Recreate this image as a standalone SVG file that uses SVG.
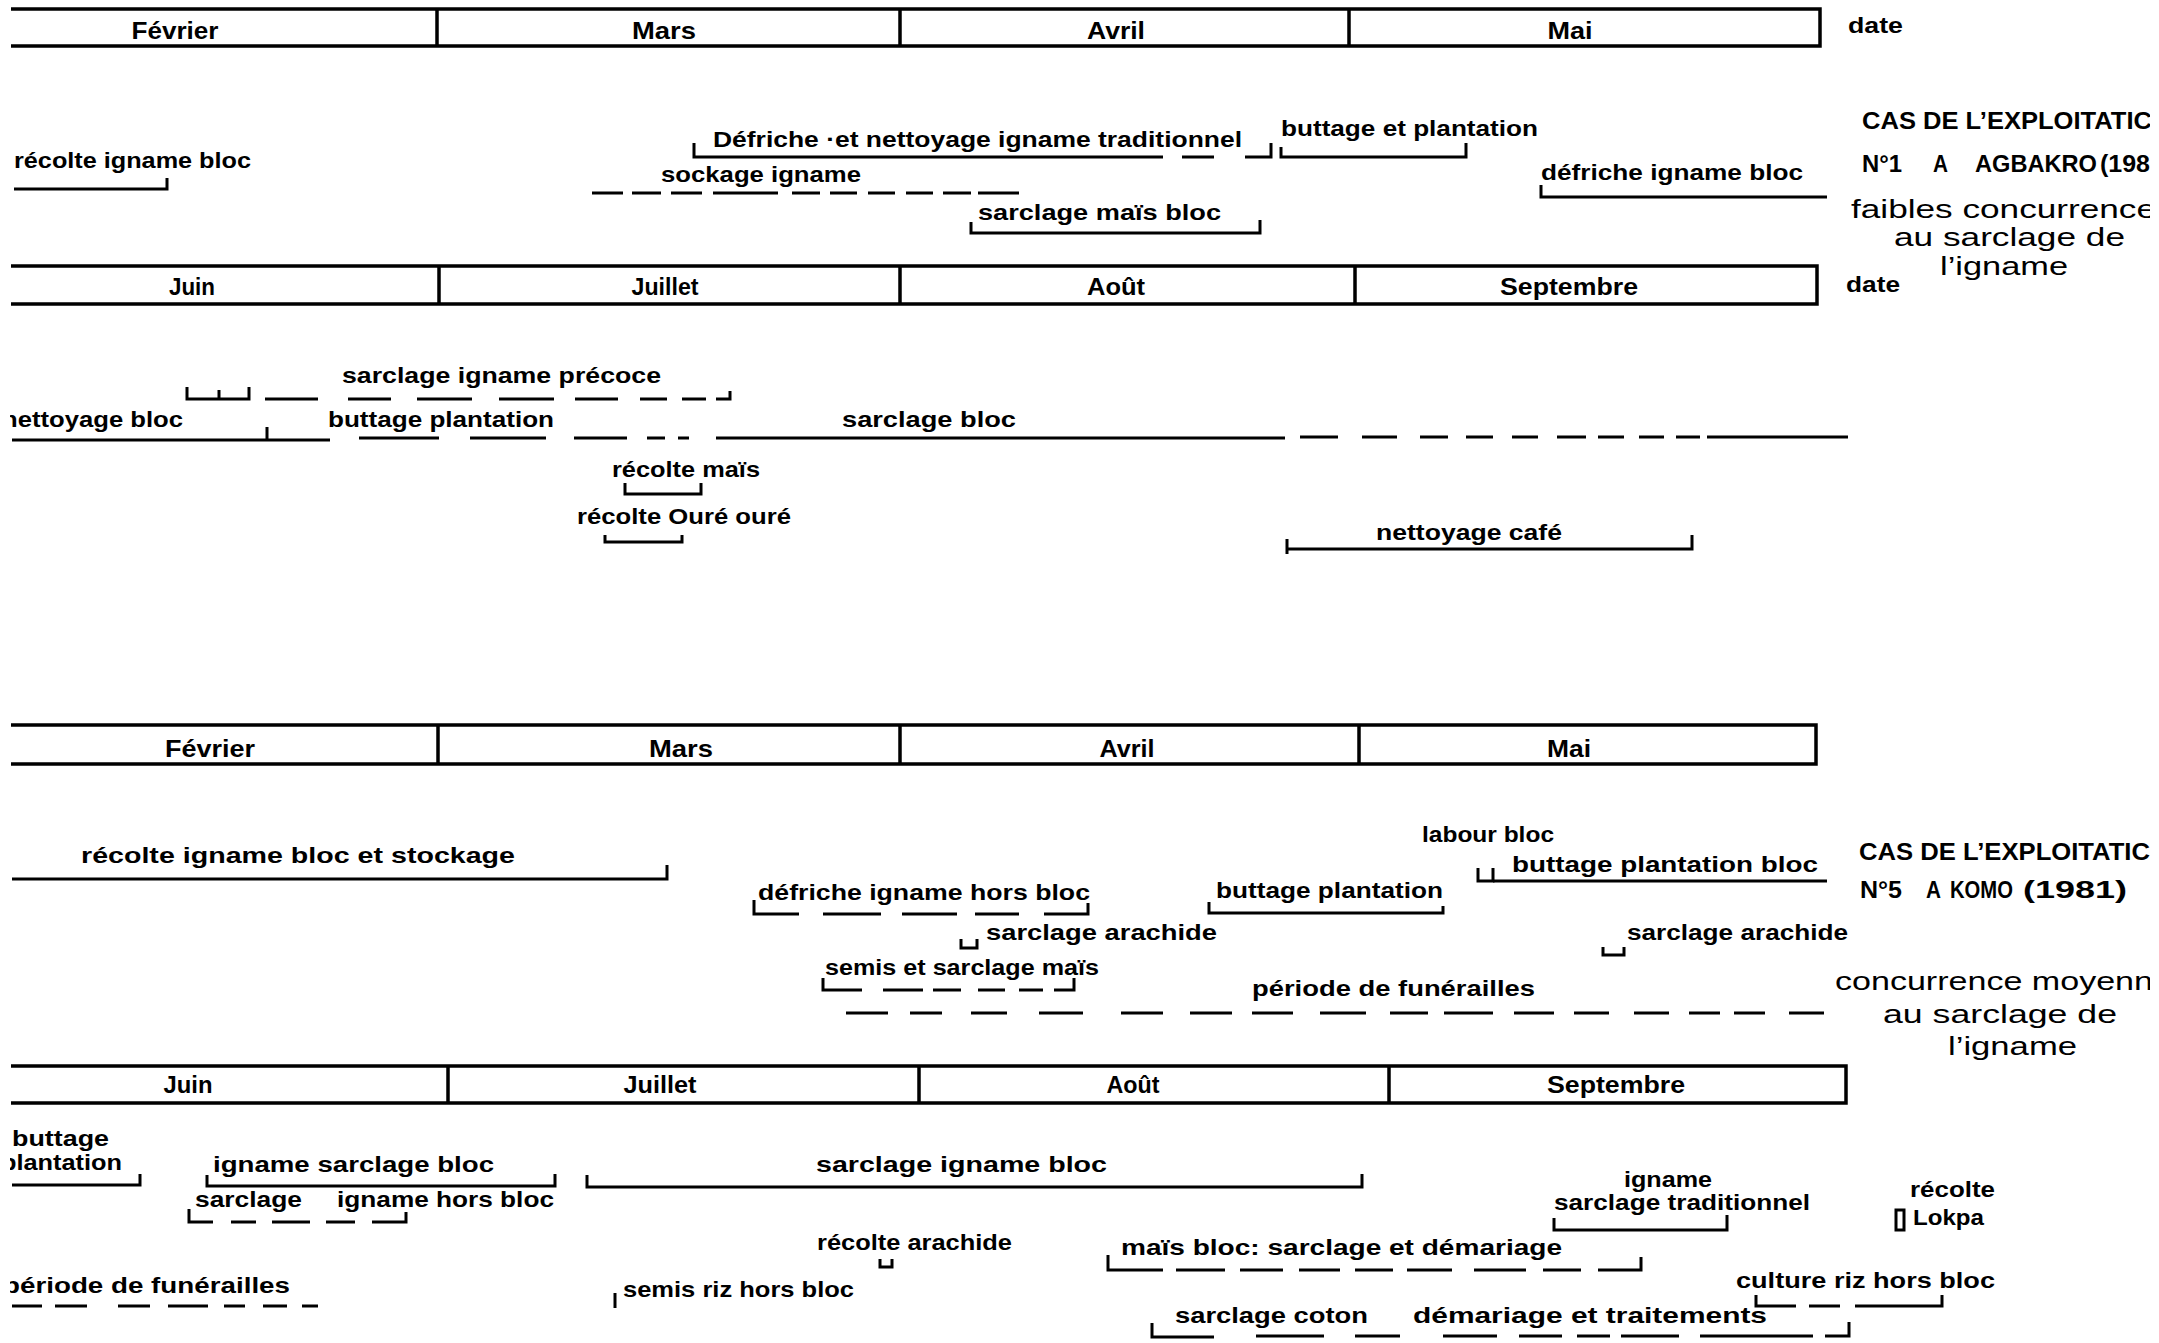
<svg xmlns="http://www.w3.org/2000/svg" width="2159" height="1343" viewBox="0 0 2159 1343">
<defs>
<clipPath id="page"><rect x="10" y="0" width="2140" height="1343"/></clipPath>
<style>
.ln{stroke:#000;stroke-width:3;fill:none;stroke-linecap:butt}
.bar{stroke:#000;stroke-width:3.5;fill:none}
.t{font-family:"Liberation Sans",Arial,sans-serif;font-weight:bold;font-size:22px;fill:#000}
.m{font-family:"Liberation Sans",Arial,sans-serif;font-weight:bold;font-size:24px;fill:#000;text-anchor:middle}
.h{font-family:"Liberation Sans",Arial,sans-serif;font-weight:bold;font-size:23px;fill:#000}
.n{font-family:"Liberation Sans",Arial,sans-serif;font-size:25px;fill:#000}
</style>
</defs>
<rect width="2159" height="1343" fill="#fff"/>
<g clip-path="url(#page)">

<!-- ===== Section 1 : Agbakro ===== -->
<g id="bar1">
<path class="bar" d="M11 9 H1820 V46 H11 M437 9 V46 M900 9 V46 M1349 9 V46"/>
<text class="m" x="175" y="39" textLength="87" lengthAdjust="spacingAndGlyphs">Février</text>
<text class="m" x="664" y="39" textLength="64" lengthAdjust="spacingAndGlyphs">Mars</text>
<text class="m" x="1116" y="39" textLength="58" lengthAdjust="spacingAndGlyphs">Avril</text>
<text class="m" x="1570" y="39" textLength="45" lengthAdjust="spacingAndGlyphs">Mai</text>
<text class="t" x="1848" y="33" textLength="55" lengthAdjust="spacingAndGlyphs">date</text>
</g>

<g id="a-recolte-igname-bloc">
<text class="t" x="14" y="168" textLength="237" lengthAdjust="spacingAndGlyphs">récolte igname bloc</text>
<path class="ln" d="M14 189 H167 V178"/>
</g>
<g id="a-defriche-trad">
<text class="t" x="713" y="147" textLength="529" lengthAdjust="spacingAndGlyphs">Défriche ·et nettoyage igname traditionnel</text>
<path class="ln" d="M694 143 V157 H1163 M1182 157 H1214 M1245 157 H1271 V143"/>
</g>
<g id="a-buttage-plantation-1">
<text class="t" x="1281" y="136" textLength="257" lengthAdjust="spacingAndGlyphs">buttage et plantation</text>
<path class="ln" d="M1281 147 V157 H1466 V143"/>
</g>
<g id="a-sockage">
<text class="t" x="661" y="182" textLength="200" lengthAdjust="spacingAndGlyphs">sockage igname</text>
<path class="ln" d="M592 193 H623 M632 193 H661 M671 193 H702 M713 193 H778 M792 193 H820 M830 193 H857 M868 193 H895 M906 193 H933 M943 193 H971 M978 193 H1019"/>
</g>
<g id="a-sarclage-mais-bloc">
<text class="t" x="978" y="220" textLength="243" lengthAdjust="spacingAndGlyphs">sarclage maïs bloc</text>
<path class="ln" d="M971 222 V233 H1260 V220"/>
</g>
<g id="a-defriche-bloc">
<text class="t" x="1541" y="180" textLength="262" lengthAdjust="spacingAndGlyphs">défriche igname bloc</text>
<path class="ln" d="M1541 185 V197 H1827"/>
</g>

<g id="note1">
<text class="h" x="1862" y="129" textLength="290" lengthAdjust="spacingAndGlyphs">CAS  DE  L’EXPLOITATIC</text>
<text class="h" x="1862" y="172" font-size="24" textLength="40" lengthAdjust="spacingAndGlyphs">N°1</text>
<text class="h" x="1933" y="172" font-size="24" textLength="15" lengthAdjust="spacingAndGlyphs">A</text>
<text class="h" x="1975" y="172" font-size="24" textLength="122" lengthAdjust="spacingAndGlyphs">AGBAKRO</text>
<text class="h" x="2100" y="172" font-size="24" textLength="50" lengthAdjust="spacingAndGlyphs">(198</text>
<text class="n" x="1851" y="218" textLength="305" lengthAdjust="spacingAndGlyphs">faibles concurrence</text>
<text class="n" x="1894" y="246" textLength="231" lengthAdjust="spacingAndGlyphs">au sarclage de</text>
<text class="n" x="1940" y="275" textLength="128" lengthAdjust="spacingAndGlyphs">l’igname</text>
</g>

<g id="bar2">
<path class="bar" d="M11 266 H1817 V304 H11 M439 266 V304 M900 266 V304 M1355 266 V304"/>
<text class="m" x="192" y="295" textLength="46" lengthAdjust="spacingAndGlyphs">Juin</text>
<text class="m" x="665" y="295" textLength="67" lengthAdjust="spacingAndGlyphs">Juillet</text>
<text class="m" x="1116" y="295" textLength="58" lengthAdjust="spacingAndGlyphs">Août</text>
<text class="m" x="1569" y="295" textLength="138" lengthAdjust="spacingAndGlyphs">Septembre</text>
<text class="t" x="1846" y="292" textLength="54" lengthAdjust="spacingAndGlyphs">date</text>
</g>

<g id="b-sarclage-precoce">
<text class="t" x="342" y="383" textLength="319" lengthAdjust="spacingAndGlyphs">sarclage igname précoce</text>
<path class="ln" d="M187 387 V399 H249 V387 M219 399 V390 M265 399 H318 M348 399 H391 M417 399 H472 M499 399 H554 M575 399 H618 M640 399 H667 M682 399 H706 M716 399 H730 V391"/>
</g>
<g id="b-nettoyage-bloc">
<text class="t" x="2" y="427" textLength="181" lengthAdjust="spacingAndGlyphs">nettoyage bloc</text>
<path class="ln" d="M12 440 H330 M267 440 V427"/>
</g>
<g id="b-buttage-plantation">
<text class="t" x="328" y="427" textLength="226" lengthAdjust="spacingAndGlyphs">buttage plantation</text>
<path class="ln" d="M359 438 H439 M470 438 H546 M574 438 H627 M647 438 H665 M678 438 H689"/>
</g>
<g id="b-sarclage-bloc">
<text class="t" x="842" y="427" textLength="174" lengthAdjust="spacingAndGlyphs">sarclage bloc</text>
<path class="ln" d="M716 438 H1285 M1300 437 H1338 M1362 437 H1397 M1420 437 H1448 M1466 437 H1493 M1512 437 H1538 M1557 437 H1586 M1598 437 H1624 M1639 437 H1664 M1676 437 H1700 M1707 437 H1848"/>
</g>
<g id="b-recolte-mais">
<text class="t" x="612" y="477" textLength="148" lengthAdjust="spacingAndGlyphs">récolte maïs</text>
<path class="ln" d="M625 483 V494 H701 V483"/>
</g>
<g id="b-recolte-oure">
<text class="t" x="577" y="524" textLength="214" lengthAdjust="spacingAndGlyphs">récolte Ouré ouré</text>
<path class="ln" d="M605 535 V542 H682 V535"/>
</g>
<g id="b-nettoyage-cafe">
<text class="t" x="1376" y="540" textLength="186" lengthAdjust="spacingAndGlyphs">nettoyage café</text>
<path class="ln" d="M1287 539 V554 M1287 549 H1692 V535"/>
</g>

<!-- ===== Section 2 : Komo ===== -->
<g id="bar3">
<path class="bar" d="M11 725 H1816 V764 H11 M438 725 V764 M900 725 V764 M1359 725 V764"/>
<text class="m" x="210" y="757" textLength="90" lengthAdjust="spacingAndGlyphs">Février</text>
<text class="m" x="681" y="757" textLength="64" lengthAdjust="spacingAndGlyphs">Mars</text>
<text class="m" x="1127" y="757" textLength="55" lengthAdjust="spacingAndGlyphs">Avril</text>
<text class="m" x="1569" y="757" textLength="44" lengthAdjust="spacingAndGlyphs">Mai</text>
</g>

<g id="c-recolte-stockage">
<text class="t" x="81" y="863" textLength="434" lengthAdjust="spacingAndGlyphs">récolte igname bloc et stockage</text>
<path class="ln" d="M12 879 H667 V865"/>
</g>
<g id="c-defriche-hors-bloc">
<text class="t" x="758" y="900" textLength="332" lengthAdjust="spacingAndGlyphs">défriche igname hors bloc</text>
<path class="ln" d="M754 900 V914 H799 M823 914 H881 M902 914 H957 M975 914 H1019 M1044 914 H1088 V903"/>
</g>
<g id="c-sarclage-arachide-1">
<text class="t" x="986" y="940" textLength="231" lengthAdjust="spacingAndGlyphs">sarclage arachide</text>
<path class="ln" d="M961 939 V948 H977 V939"/>
</g>
<g id="c-semis-mais">
<text class="t" x="825" y="975" textLength="274" lengthAdjust="spacingAndGlyphs">semis et sarclage maïs</text>
<path class="ln" d="M823 978 V990 H862 M883 990 H923 M933 990 H961 M978 990 H1005 M1019 990 H1043 M1054 990 H1074 V978"/>
</g>
<g id="c-funerailles">
<text class="t" x="1252" y="996" textLength="283" lengthAdjust="spacingAndGlyphs">période de funérailles</text>
<path class="ln" d="M846 1013 H888 M910 1013 H942 M971 1013 H1007 M1039 1013 H1083 M1121 1013 H1163 M1190 1013 H1232 M1252 1013 H1293 M1320 1013 H1366 M1390 1013 H1428 M1444 1013 H1493 M1514 1013 H1554 M1574 1013 H1609 M1634 1013 H1669 M1689 1013 H1720 M1734 1013 H1765 M1789 1013 H1824"/>
</g>
<g id="c-labour-bloc">
<text class="t" x="1422" y="842" textLength="132" lengthAdjust="spacingAndGlyphs">labour bloc</text>
<path class="ln" d="M1478 868 V881 H1493 V868"/>
</g>
<g id="c-buttage-plantation-bloc">
<text class="t" x="1512" y="872" textLength="306" lengthAdjust="spacingAndGlyphs">buttage plantation bloc</text>
<path class="ln" d="M1493 881 H1827"/>
</g>
<g id="c-buttage-plantation">
<text class="t" x="1216" y="898" textLength="227" lengthAdjust="spacingAndGlyphs">buttage plantation</text>
<path class="ln" d="M1209 902 V913 H1443 V906"/>
</g>
<g id="c-sarclage-arachide-2">
<text class="t" x="1627" y="940" textLength="221" lengthAdjust="spacingAndGlyphs">sarclage arachide</text>
<path class="ln" d="M1603 947 V955 H1624 V947"/>
</g>

<g id="note5">
<text class="h" x="1859" y="860" textLength="291" lengthAdjust="spacingAndGlyphs">CAS  DE  L’EXPLOITATIC</text>
<text class="h" x="1860" y="898" textLength="42" lengthAdjust="spacingAndGlyphs">N°5</text>
<text class="h" x="1926" y="898" textLength="15" lengthAdjust="spacingAndGlyphs">A</text>
<text class="h" x="1950" y="898" textLength="63" lengthAdjust="spacingAndGlyphs">KOMO</text>
<text class="h" x="2023" y="898" textLength="104" lengthAdjust="spacingAndGlyphs">(1981)</text>
<text class="n" x="1835" y="990" textLength="318" lengthAdjust="spacingAndGlyphs">concurrence moyenn</text>
<text class="n" x="1883" y="1023" textLength="234" lengthAdjust="spacingAndGlyphs">au sarclage de</text>
<text class="n" x="1948" y="1055" textLength="129" lengthAdjust="spacingAndGlyphs">l’igname</text>
</g>

<g id="bar4">
<path class="bar" d="M11 1066 H1846 V1103 H11 M448 1066 V1103 M919 1066 V1103 M1389 1066 V1103"/>
<text class="m" x="188" y="1093" textLength="49" lengthAdjust="spacingAndGlyphs">Juin</text>
<text class="m" x="660" y="1093" textLength="73" lengthAdjust="spacingAndGlyphs">Juillet</text>
<text class="m" x="1133" y="1093" textLength="53" lengthAdjust="spacingAndGlyphs">Août</text>
<text class="m" x="1616" y="1093" textLength="138" lengthAdjust="spacingAndGlyphs">Septembre</text>
</g>

<g id="d-buttage-plantation">
<text class="t" x="12" y="1146" textLength="97" lengthAdjust="spacingAndGlyphs">buttage</text>
<text class="t" x="1" y="1170" textLength="121" lengthAdjust="spacingAndGlyphs">plantation</text>
<path class="ln" d="M12 1185 H140 V1174"/>
</g>
<g id="d-igname-sarclage-bloc">
<text class="t" x="213" y="1172" textLength="281" lengthAdjust="spacingAndGlyphs">igname sarclage bloc</text>
<path class="ln" d="M207 1175 V1186 H555 V1174"/>
</g>
<g id="d-sarclage-hors-bloc">
<text class="t" x="195" y="1207" textLength="107" lengthAdjust="spacingAndGlyphs">sarclage</text>
<text class="t" x="337" y="1207" textLength="217" lengthAdjust="spacingAndGlyphs">igname hors bloc</text>
<path class="ln" d="M189 1209 V1222 H213 M231 1222 H256 M272 1222 H310 M326 1222 H355 M372 1222 H406 V1212"/>
</g>
<g id="d-funerailles">
<text class="t" x="3" y="1293" textLength="287" lengthAdjust="spacingAndGlyphs">période de funérailles</text>
<path class="ln" d="M12 1306 H42 M55 1306 H87 M118 1306 H150 M168 1306 H208 M224 1306 H245 M263 1306 H287 M302 1306 H318"/>
</g>
<g id="d-sarclage-igname-bloc">
<text class="t" x="816" y="1172" textLength="291" lengthAdjust="spacingAndGlyphs">sarclage igname bloc</text>
<path class="ln" d="M587 1175 V1187 H1362 V1174"/>
</g>
<g id="d-recolte-arachide">
<text class="t" x="817" y="1250" textLength="195" lengthAdjust="spacingAndGlyphs">récolte arachide</text>
<path class="ln" d="M880 1259 V1267 H892 V1259"/>
</g>
<g id="d-semis-riz">
<text class="t" x="623" y="1297" textLength="231" lengthAdjust="spacingAndGlyphs">semis riz hors bloc</text>
<path class="ln" d="M615 1293 V1308"/>
</g>
<g id="d-mais-bloc">
<text class="t" x="1121" y="1255" textLength="441" lengthAdjust="spacingAndGlyphs">maïs bloc: sarclage et démariage</text>
<path class="ln" d="M1108 1255 V1270 H1163 M1176 1270 H1225 M1240 1270 H1283 M1299 1270 H1340 M1355 1270 H1393 M1407 1270 H1452 M1474 1270 H1526 M1543 1270 H1581 M1598 1270 H1641 V1257"/>
</g>
<g id="d-igname-traditionnel">
<text class="t" x="1624" y="1187" textLength="88" lengthAdjust="spacingAndGlyphs">igname</text>
<text class="t" x="1554" y="1210" textLength="256" lengthAdjust="spacingAndGlyphs">sarclage traditionnel</text>
<path class="ln" d="M1554 1218 V1230 H1727 V1215"/>
</g>
<g id="d-recolte-lokpa">
<text class="t" x="1910" y="1197" textLength="85" lengthAdjust="spacingAndGlyphs">récolte</text>
<text class="t" x="1913" y="1225" textLength="71" lengthAdjust="spacingAndGlyphs">Lokpa</text>
<rect class="ln" x="1896" y="1210" width="8" height="20" stroke-width="2.5"/>
</g>
<g id="d-culture-riz">
<text class="t" x="1736" y="1288" textLength="259" lengthAdjust="spacingAndGlyphs">culture riz hors bloc</text>
<path class="ln" d="M1756 1295 V1306 H1796 M1809 1306 H1840 M1855 1306 H1942 V1295"/>
</g>
<g id="d-sarclage-coton">
<text class="t" x="1175" y="1323" textLength="193" lengthAdjust="spacingAndGlyphs">sarclage coton</text>
<text class="t" x="1413" y="1323" textLength="354" lengthAdjust="spacingAndGlyphs">démariage et traitements</text>
<path class="ln" d="M1152 1323 V1337 H1214 M1256 1336 H1324 M1355 1336 H1400 M1443 1336 H1497 M1519 1336 H1562 M1577 1336 H1610 M1621 1336 H1679 M1700 1336 H1813 M1825 1336 H1849 V1322"/>
</g>

<g id="connectors"></g>
</g>
</svg>
